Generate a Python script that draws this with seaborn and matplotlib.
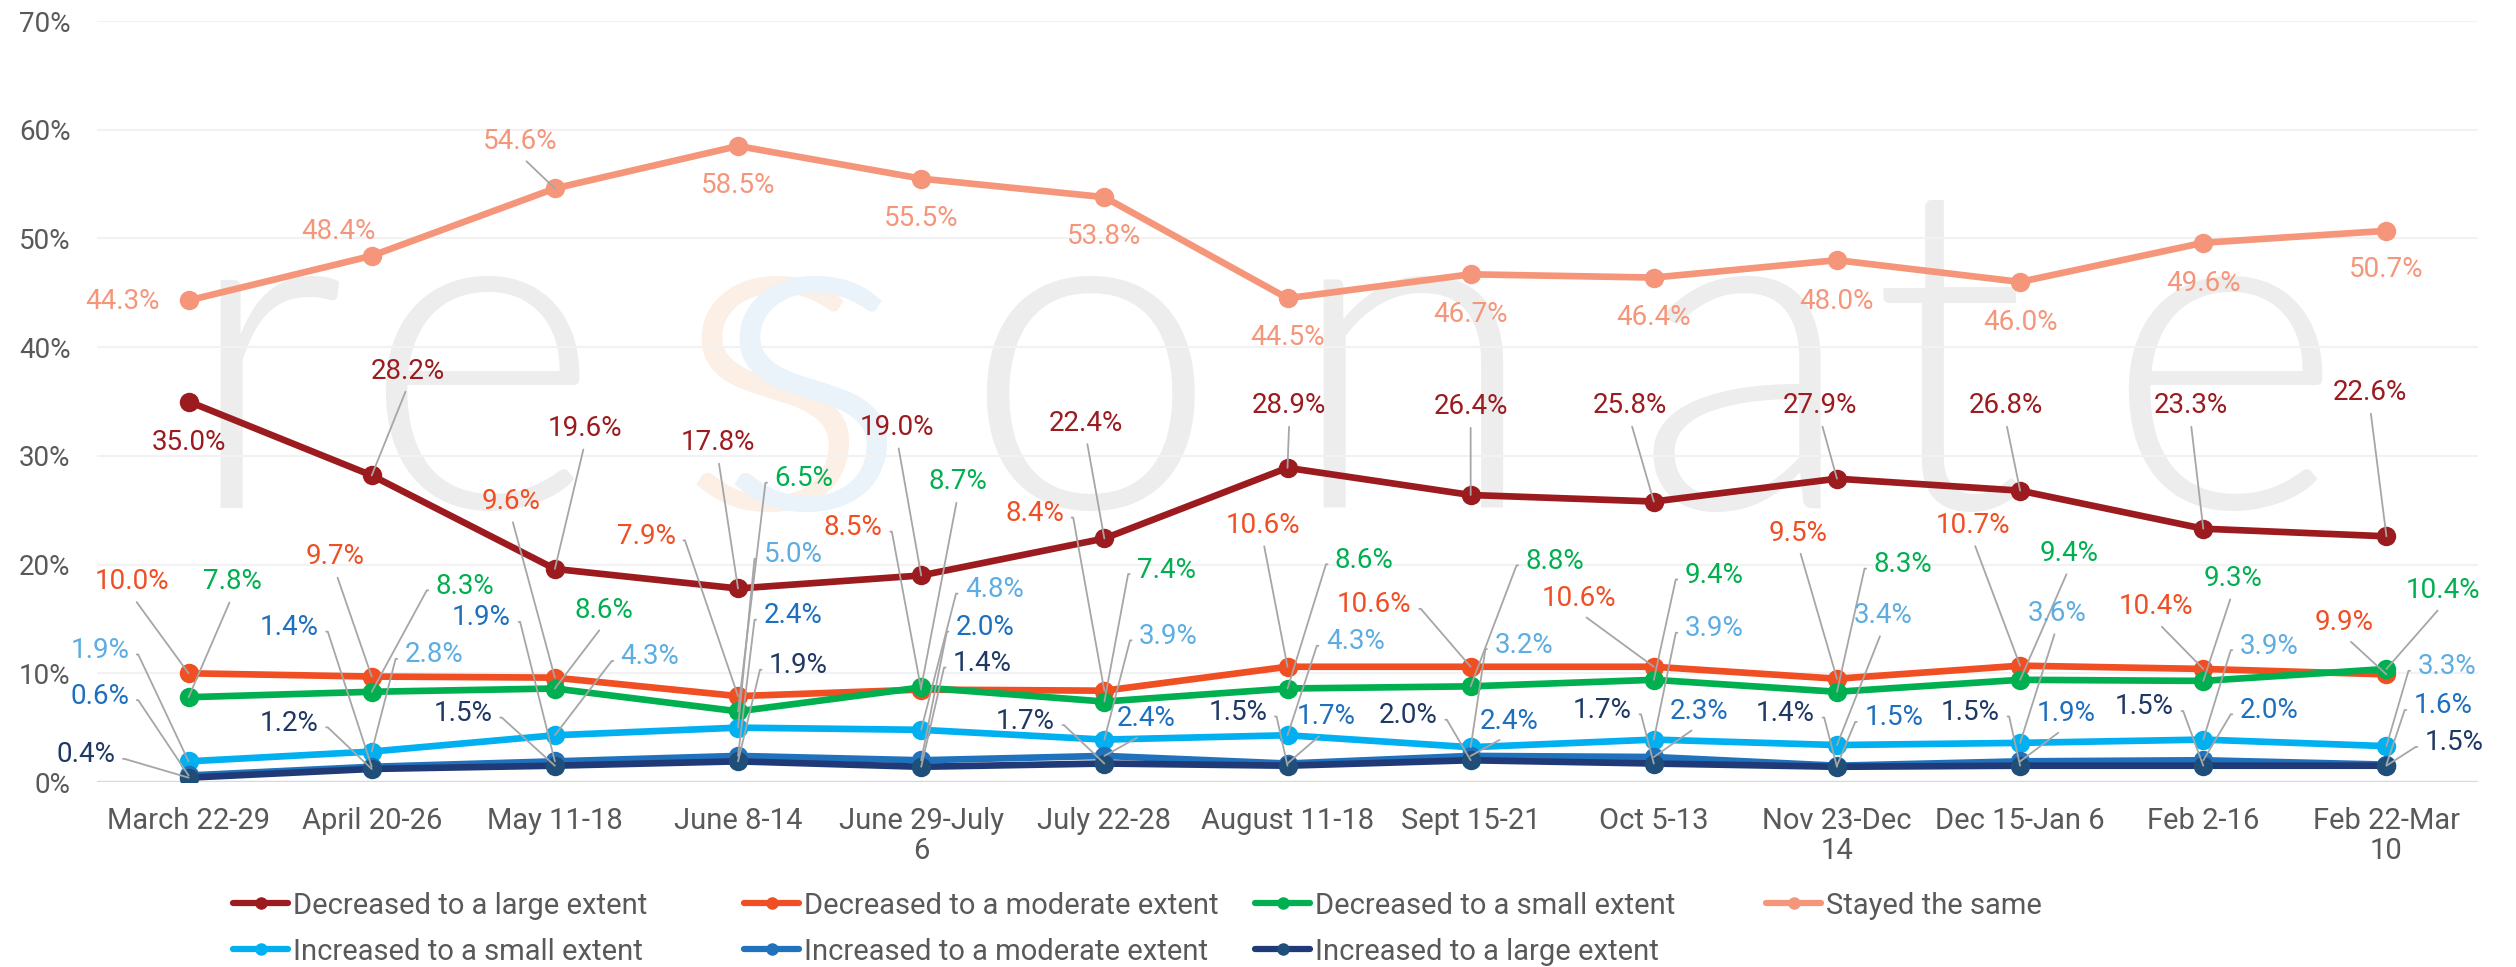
import numpy as np
import pandas as pd
import seaborn as sns
import matplotlib.pyplot as plt
import matplotlib.font_manager as fm
from matplotlib.lines import Line2D
from matplotlib.ticker import FuncFormatter

sns.set_style("white")

installed = {f.name for f in fm.fontManager.ttflist}
FONT = next(f for f in ["Roboto", "Liberation Sans", "DejaVu Sans"] if f in installed)
plt.rcParams["font.family"] = [FONT, "DejaVu Sans"]

# light-weight face for the background watermark
light_faces = sorted(
    (f for f in fm.fontManager.ttflist
     if f.name in ("Lato", "Roboto", "Open Sans") and f.weight == 300 and f.style == "normal"),
    key=lambda f: ("Lato", "Roboto", "Open Sans").index(f.name))
if light_faces:
    WM_PROP = fm.FontProperties(fname=light_faces[0].fname, size=330)
else:
    WM_PROP = fm.FontProperties(family=FONT, size=330)

# ---- data -------------------------------------------------------------
PERIODS = ["March 22-29", "April 20-26", "May 11-18", "June 8-14", "June 29-July\n6",
           "July 22-28", "August 11-18", "Sept 15-21", "Oct 5-13", "Nov 23-Dec\n14",
           "Dec 15-Jan 6", "Feb 2-16", "Feb 22-Mar\n10"]

SERIES = ["Decreased to a large extent", "Decreased to a moderate extent",
          "Decreased to a small extent", "Stayed the same",
          "Increased to a small extent", "Increased to a moderate extent",
          "Increased to a large extent"]

dec_large = [35.0, 28.2, 19.6, 17.8, 19.0, 22.4, 28.9, 26.4, 25.8, 27.9, 26.8, 23.3, 22.6]
dec_moderate = [10.0, 9.7, 9.6, 7.9, 8.5, 8.4, 10.6, 10.6, 10.6, 9.5, 10.7, 10.4, 9.9]
dec_small = [7.8, 8.3, 8.6, 6.5, 8.7, 7.4, 8.6, 8.8, 9.4, 8.3, 9.4, 9.3, 10.4]
stayed_same = [44.3, 48.4, 54.6, 58.5, 55.5, 53.8, 44.5, 46.7, 46.4, 48.0, 46.0, 49.6, 50.7]
inc_small = [1.9, 2.8, 4.3, 5.0, 4.8, 3.9, 4.3, 3.2, 3.9, 3.4, 3.6, 3.9, 3.3]
inc_moderate = [0.6, 1.4, 1.9, 2.4, 2.0, 2.4, 1.7, 2.4, 2.3, 1.5, 1.9, 2.0, 1.6]
inc_large = [0.4, 1.2, 1.5, 1.9, 1.4, 1.7, 1.5, 2.0, 1.7, 1.4, 1.5, 1.5, 1.5]

VALUES = [dec_large, dec_moderate, dec_small, stayed_same, inc_small, inc_moderate, inc_large]

# ---- styling ----------------------------------------------------------
LINE_COLORS = ["#9B1B1F", "#F04E23", "#00B050", "#F5967B", "#00B0F0", "#2072BD", "#203A78"]
MARKER_COLORS = ["#9B1B1F", "#F04E23", "#00B050", "#F5967B", "#00B0F0", "#2072BD", "#1F4E79"]
LABEL_COLORS = ["#9B1B1F", "#F04E23", "#00B050", "#F5967B", "#5DADE2", "#1F6FBF", "#1F3864"]
GREY_TEXT = "#595959"
LEADER = "#A6A6A6"

# label offsets from each point (category units, percentage points) and leader kind
LABEL_LAYOUT = [
    [(0, -3.8, None), (0.2, 9.6, "v"), (0.165, 12.9, "v"), (-0.11, 13.4, "v"), (-0.13, 13.6, "v"),
     (-0.10, 10.6, "v"), (0.01, 5.7, "v"), (0, 8.1, "v"), (-0.13, 8.8, "v"), (-0.09, 6.7, "v"),
     (-0.08, 7.8, "v"), (-0.07, 11.3, "v"), (-0.09, 13.2, "v")],
    [(-0.31, 8.4, "v"), (-0.2, 11.0, "v"), (-0.24, 16.2, "v"), (-0.5, 14.7, "r"), (-0.37, 14.9, "r"),
     (-0.38, 16.3, "r"), (-0.135, 13.0, "v"), (-0.525, 5.7, "r"), (-0.41, 6.3, "v"), (-0.21, 13.4, "v"),
     (-0.26, 12.9, "v"), (-0.26, 5.7, "v"), (-0.23, 4.8, "v")],
    [(0.24, 10.6, "v"), (0.51, 9.7, "l"), (0.27, 7.2, "v"), (0.36, 21.4, "l"), (0.2, 18.9, "v"),
     (0.34, 12.1, "l"), (0.42, 11.8, "l"), (0.46, 11.5, "l"), (0.33, 9.6, "l"), (0.36, 11.7, "l"),
     (0.27, 11.6, "v"), (0.16, 9.4, "v"), (0.31, 7.2, "v")],
    [(-0.36, -0.1, None), (-0.18, 2.2, None), (-0.19, 4.3, "v"), (0, -3.6, None), (0, -3.7, None),
     (0, -3.6, None), (0, -3.6, None), (0, -3.7, None), (0, -3.7, None), (0, -3.8, None),
     (0, -3.7, None), (0, -3.7, None), (0, -3.6, None)],
    [(-0.485, 10.2, "r"), (0.34, 8.9, "l"), (0.52, 7.2, "l"), (0.3, 15.9, "l"), (0.4, 12.9, "l"),
     (0.35, 9.5, "l"), (0.37, 8.6, "l"), (0.29, 9.4, "l"), (0.33, 10.2, "l"), (0.25, 11.9, "v"),
     (0.2, 11.9, "v"), (0.36, 8.6, "l"), (0.33, 7.3, "l")],
    [(-0.485, 7.3, "r"), (-0.45, 12.8, "r"), (-0.4, 13.2, "r"), (0.3, 12.9, "l"), (0.35, 12.2, "l"),
     (0.23, 3.4, "v"), (0.21, 4.3, "v"), (0.21, 3.2, "v"), (0.25, 4.2, "v"), (0.31, 4.4, "l"),
     (0.25, 4.4, "v"), (0.36, 4.6, "l"), (0.31, 5.4, "l")],
    [(-0.56, 2.1, "r"), (-0.45, 4.2, "r"), (-0.5, 4.8, "r"), (0.33, 8.8, "l"), (0.335, 9.5, "l"),
     (-0.43, 3.9, "r"), (-0.27, 4.9, "r"), (-0.34, 4.1, "r"), (-0.28, 4.9, "r"), (-0.28, 4.9, "r"),
     (-0.27, 4.9, "r"), (-0.32, 5.4, "r"), (0.37, 2.1, "l")],
]

df = pd.DataFrame({
    "pos": np.tile(np.arange(len(PERIODS)), len(SERIES)),
    "value": np.concatenate(VALUES),
    "series": np.repeat(SERIES, len(PERIODS)),
})

fig = plt.figure(figsize=(25.16, 9.67), dpi=100)
ax = fig.add_axes([0.03855, 0.19131, 0.94635, 0.78697])

# faint watermark
WM_GREY = "#EDEDED"
for ch, xc, col in [("r", 0.070, WM_GREY), ("e", 0.161, WM_GREY), ("s", 0.284, "#FCEFE5"),
                    ("s", 0.300, "#EAF2FA"), ("o", 0.417, WM_GREY), ("n", 0.552, WM_GREY),
                    ("a", 0.692, WM_GREY), ("t", 0.778, WM_GREY), ("e", 0.893, WM_GREY)]:
    ax.text(xc, 0.3605, ch, transform=ax.transAxes, ha="center", va="baseline",
            fontproperties=WM_PROP, color=col, zorder=0)

ax.grid(axis="y", color="#F2F2F2", lw=1.5, zorder=0.5)
ax.axhline(0, color="#D9D9D9", lw=2.4, zorder=1)

for k, name in enumerate(SERIES):
    sns.lineplot(data=df[df["series"] == name], x="pos", y="value", ax=ax,
                 color=LINE_COLORS[k], lw=4.8, marker="o", markersize=14,
                 markerfacecolor=MARKER_COLORS[k], markeredgewidth=0,
                 legend=False, zorder=2 + k * 0.01)


def leader(kind):
    props = dict(arrowstyle="-", color=LEADER, lw=1.3, shrinkA=3, shrinkB=0)
    if kind == "v":
        props.update(relpos=(0.5, 0.0))
    elif kind == "r":
        props.update(relpos=(1.0, 0.35), connectionstyle="arc,angleA=0,armA=9,rad=0")
    elif kind == "l":
        props.update(relpos=(0.0, 0.35), connectionstyle="arc,angleA=180,armA=9,rad=0")
    return props


for k, vals in enumerate(VALUES):
    for i, v in enumerate(vals):
        dx, dy, kind = LABEL_LAYOUT[k][i]
        ax.annotate(f"{v:.1f}%", xy=(i, v), xytext=(i + dx, v + dy), textcoords="data",
                    ha="center", va="center", fontsize=20, color=LABEL_COLORS[k],
                    arrowprops=leader(kind) if kind else None, zorder=5)

ax.set_xlim(-0.5, len(PERIODS) - 0.5)
ax.set_ylim(0, 70)
ax.set_xticks(np.arange(len(PERIODS)))
ax.set_xticklabels(PERIODS, fontsize=21, color=GREY_TEXT, linespacing=1.1)
ax.set_yticks(np.arange(0, 71, 10))
ax.yaxis.set_major_formatter(FuncFormatter(lambda y, _: f"{y:.0f}%"))
ax.tick_params(axis="x", length=0, pad=18)
ax.tick_params(axis="y", length=0, pad=19, labelsize=20, labelcolor=GREY_TEXT)
ax.set_xlabel("")
ax.set_ylabel("")
sns.despine(ax=ax, left=True, bottom=True, top=True, right=True)

# legend laid out as four fixed columns
handles = [Line2D([], [], color=LINE_COLORS[k], lw=4.5, marker="o", markersize=9,
                  markerfacecolor=MARKER_COLORS[k], markeredgewidth=0) for k in range(len(SERIES))]
columns = [[0, 4], [1, 5], [2, 6], [3]]
col_x = [233, 744, 1255, 1766]
for idx, x0 in zip(columns, col_x):
    fig.legend([handles[j] for j in idx], [SERIES[j] for j in idx], loc="upper left",
               bbox_to_anchor=(x0 / 2516, 0.078), frameon=False, fontsize=21,
               labelcolor=GREY_TEXT, handlelength=1.9, handletextpad=0.15,
               labelspacing=0.62, borderpad=0, borderaxespad=0)

fig.savefig("out.png", dpi=100)
